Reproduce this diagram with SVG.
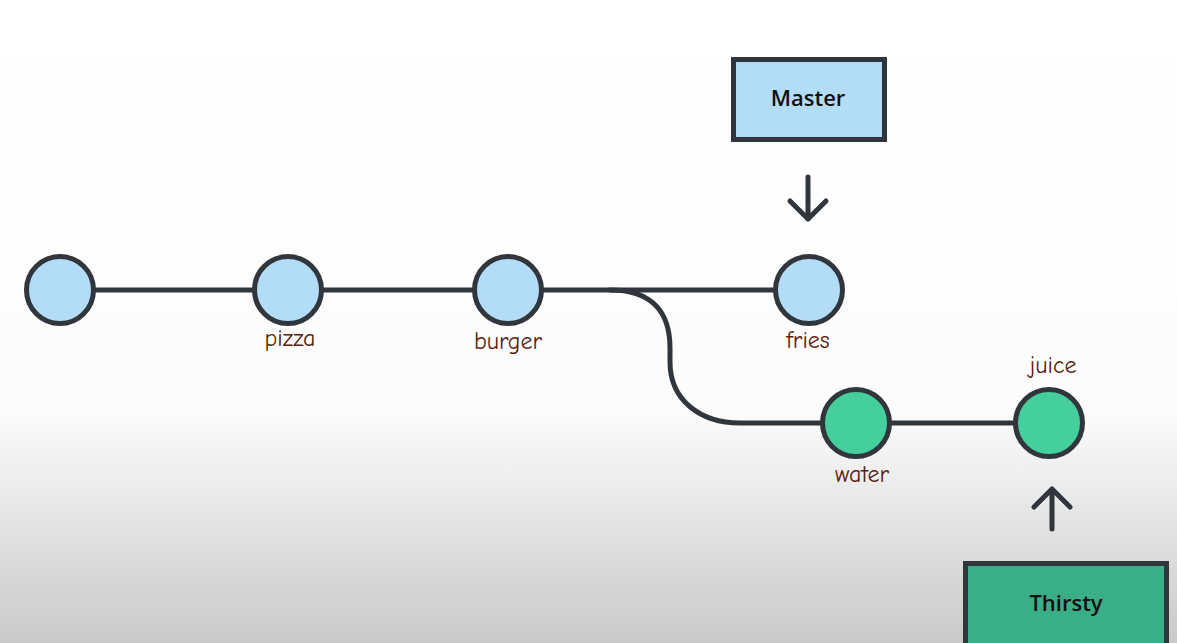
<svg xmlns="http://www.w3.org/2000/svg" width="1177" height="643" viewBox="0 0 1177 643">
<defs>
<linearGradient id="bg" x1="0" y1="0" x2="0" y2="1">
<stop offset="0" stop-color="#ffffff"/>
<stop offset="0.64" stop-color="#fcfcfc"/>
<stop offset="1" stop-color="#c9c9c9"/>
</linearGradient>
<style>
.edge{fill:none;stroke:#30363b;stroke-width:5;stroke-linecap:round;stroke-linejoin:round}
.blue{fill:#b3ddf7;stroke:#30363b;stroke-width:5}
.green{fill:#44cf9d;stroke:#30363b;stroke-width:5}
.lbl{font-family:"Comic Neue","DejaVu Sans",sans-serif;font-size:24px;fill:#5a200c;text-anchor:middle}
.box{font-family:"Open Sans","Liberation Sans",sans-serif;font-size:22px;font-weight:600;fill:#111;text-anchor:middle}
</style>
</defs>
<rect x="0" y="0" width="1177" height="643" fill="url(#bg)"/>
<g id="connectors">
<path class="edge" d="M60 290 L808 290"/>
<path class="edge" d="M610 290 C655 290 670 315 670 348 L670 362 C670 400 700 423 740 423 L1049 423"/>
<path class="edge" d="M808 177 L808 219 M790 201 L808 219 L826 201"/>
<path class="edge" d="M1052 529 L1052 489 M1034 507 L1052 489 L1070 507"/>
</g>
<g id="c0"><circle class="blue" cx="60" cy="290" r="33.5"/></g>
<g id="pizza"><circle class="blue" cx="288" cy="290" r="33.5"/><text class="lbl" x="290" y="346">pizza</text></g>
<g id="burger"><circle class="blue" cx="508" cy="290" r="33.5"/><text class="lbl" x="508" y="349">burger</text></g>
<g id="fries"><circle class="blue" cx="809" cy="290" r="33.5"/><text class="lbl" x="808" y="348">fries</text></g>
<g id="water"><circle class="green" cx="856" cy="423" r="33.5"/><text class="lbl" x="862" y="482">water</text></g>
<g id="juice"><circle class="green" cx="1049" cy="423" r="33.5"/><text class="lbl" x="1053" y="373">juice</text></g>
<g id="master"><rect x="733.5" y="59.5" width="151" height="80" fill="#b3ddf7" stroke="#30363b" stroke-width="5"/><text class="box" x="808" y="106">Master</text></g>
<g id="thirsty"><rect x="965.5" y="563.5" width="201" height="90" fill="#3aae86" stroke="#30363b" stroke-width="5"/><text class="box" x="1066" y="611">Thirsty</text></g>
</svg>
